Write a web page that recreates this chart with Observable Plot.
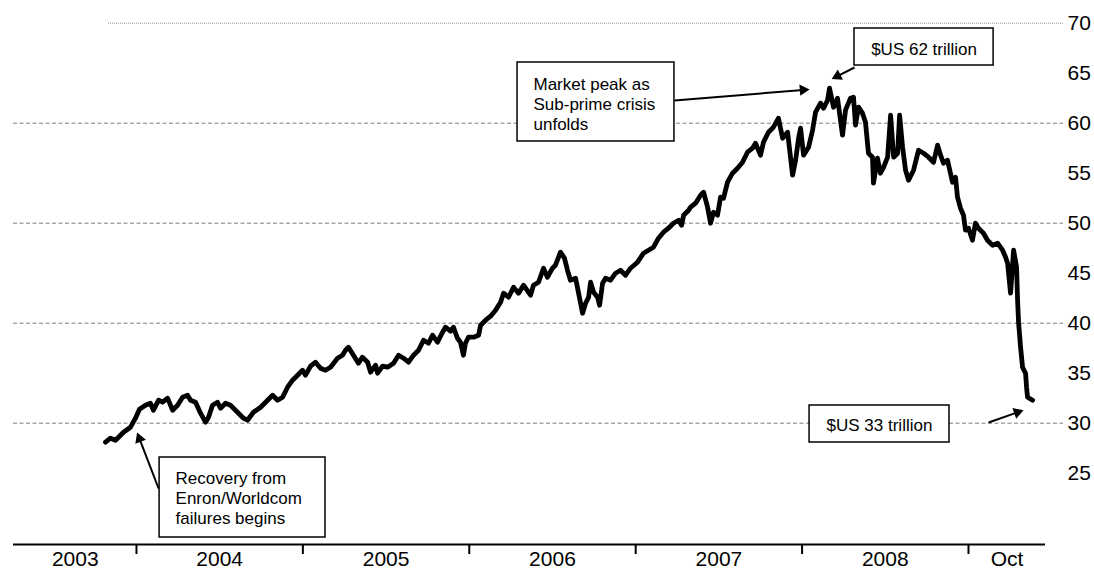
<!DOCTYPE html>
<html><head><meta charset="utf-8">
<script src="https://cdn.jsdelivr.net/npm/d3@7"></script>
<script src="https://cdn.jsdelivr.net/npm/@observablehq/plot@0.6"></script>
<style>html,body{margin:0;padding:0;background:#fff;} #chart svg{display:block}</style>
</head><body><div id="chart"></div>
<script>
// World stock market capitalisation, $US trillion (decimal year)
const years = [2003.182,2003.212,2003.242,2003.260,2003.290,2003.332,2003.362,2003.386,2003.422,2003.452,2003.470,2003.501,2003.525,2003.555,2003.585,2003.615,2003.645,2003.675,2003.693,2003.723,2003.753,2003.783,2003.801,2003.825,2003.855,2003.873,2003.903,2003.933,2003.975,2004.011,2004.035,2004.071,2004.114,2004.156,2004.186,2004.216,2004.246,2004.276,2004.306,2004.336,2004.366,2004.384,2004.414,2004.444,2004.474,2004.504,2004.534,2004.576,2004.606,2004.624,2004.642,2004.672,2004.702,2004.726,2004.757,2004.775,2004.805,2004.817,2004.847,2004.877,2004.913,2004.943,2004.973,2005.003,2005.033,2005.063,2005.093,2005.123,2005.147,2005.177,2005.207,2005.225,2005.255,2005.273,2005.297,2005.315,2005.333,2005.345,2005.363,2005.394,2005.424,2005.436,2005.466,2005.496,2005.526,2005.556,2005.574,2005.604,2005.634,2005.664,2005.694,2005.736,2005.754,2005.784,2005.814,2005.838,2005.868,2005.886,2005.916,2005.940,2005.958,2005.976,2006.007,2006.025,2006.049,2006.067,2006.085,2006.097,2006.115,2006.139,2006.151,2006.169,2006.187,2006.217,2006.247,2006.277,2006.307,2006.337,2006.379,2006.415,2006.445,2006.475,2006.505,2006.535,2006.565,2006.595,2006.626,2006.644,2006.656,2006.686,2006.698,2006.728,2006.758,2006.776,2006.800,2006.818,2006.836,2006.860,2006.878,2006.896,2006.920,2006.950,2006.980,2007.010,2007.040,2007.070,2007.088,2007.118,2007.136,2007.166,2007.196,2007.226,2007.251,2007.281,2007.311,2007.329,2007.347,2007.359,2007.377,2007.407,2007.431,2007.449,2007.479,2007.497,2007.521,2007.533,2007.557,2007.581,2007.611,2007.629,2007.659,2007.677,2007.689,2007.707,2007.731,2007.749,2007.767,2007.791,2007.797,2007.821,2007.839,2007.858,2007.882,2007.900,2007.918,2007.942,2007.954,2007.972,2007.990,2008.008,2008.038,2008.068,2008.098,2008.128,2008.158,2008.182,2008.200,2008.218,2008.242,2008.272,2008.290,2008.302,2008.320,2008.338,2008.350,2008.368,2008.392,2008.410,2008.428,2008.458,2008.482,2008.513,2008.543,2008.573,2008.591,2008.603,2008.621,2008.639,2008.657,2008.663,2008.669,2008.681,2008.693,2008.711,2008.717,2008.723,2008.753];
const values = [28.1,28.5,28.3,28.6,29.1,29.6,30.5,31.4,31.8,32.0,31.3,32.3,32.1,32.5,31.3,31.8,32.6,32.8,32.3,32.1,31.0,30.1,30.6,31.8,32.1,31.5,32.0,31.8,31.1,30.5,30.3,31.1,31.6,32.3,32.8,32.3,32.6,33.6,34.3,34.8,35.3,34.8,35.7,36.1,35.5,35.3,35.6,36.5,36.8,37.3,37.6,36.8,36.0,36.6,36.1,35.1,35.8,35.0,35.7,35.6,36.0,36.8,36.5,36.1,36.8,37.3,38.3,38.0,38.8,38.1,39.1,39.6,39.2,39.6,38.5,38.1,36.8,38.0,38.6,38.6,38.8,39.8,40.3,40.7,41.3,42.1,43.0,42.6,43.6,43.0,43.8,42.8,43.8,44.1,45.5,44.6,45.5,45.8,47.1,46.5,45.3,44.3,44.5,43.0,41.0,42.0,42.6,44.1,43.1,42.6,41.8,44.0,44.5,44.3,45.0,45.3,44.8,45.5,46.1,47.0,47.3,47.6,48.5,49.1,49.5,50.0,50.3,49.8,50.8,51.3,51.6,52.0,52.8,53.1,51.6,50.0,51.1,50.8,52.6,52.5,54.1,55.0,55.5,56.1,57.1,57.5,58.0,56.8,58.1,59.1,59.6,60.5,58.5,59.1,54.8,56.3,58.5,59.5,56.8,57.6,59.3,61.1,62.0,61.5,62.3,63.5,61.6,62.5,58.8,61.3,62.5,62.6,59.8,61.6,61.0,60.1,57.0,56.6,54.0,56.5,55.0,55.6,56.6,60.8,56.6,57.0,60.8,57.6,55.3,54.3,55.3,57.3,57.0,56.6,56.1,57.8,56.8,56.0,56.3,54.1,54.6,52.6,51.5,50.8,49.3,49.5,48.3,50.0,49.5,49.0,48.3,47.8,48.0,47.3,46.6,46.0,43.0,47.3,45.6,42.3,40.1,37.6,35.6,35.0,33.6,32.6,32.3];

const gridValues = [30, 40, 50, 60];
const topGridValue = [70];
const yTickLabels = [25, 30, 35, 40, 45, 50, 55, 60, 65, 70];
const xTickPositions = [2003.368, 2004.368, 2005.368, 2006.368, 2007.368, 2008.368];
const xLabelText = ["2003", "2004", "2005", "2006", "2007", "2008", "Oct"];
const xLabelPos = [2003.0, 2003.868, 2004.868, 2005.868, 2006.868, 2007.868, 2008.6];

// annotation boxes (data units: decimal year, $US trillion)
const boxX1 = [2005.658, 2007.683, 2007.413, 2003.507];
const boxX2 = [2006.601, 2008.519, 2008.254, 2004.504];
const boxY1 = [58.17, 65.77, 28.07, 18.57];
const boxY2 = [66.07, 69.47, 31.77, 26.57];
const noteText = ["Market peak as\nSub-prime crisis\nunfolds", "$US 62 trillion", "$US 33 trillion", "Recovery from\nEnron/Worldcom\nfailures begins"];
const noteX = [2005.754, 2008.101, 2007.833, 2003.603];
const noteY = [61.97, 67.47, 29.87, 22.57];
const noteAnchor = ["start", "middle", "middle", "start"];
const arrowX1 = [2006.601, 2007.683, 2008.489, 2003.501];
const arrowY1 = [62.27, 65.57, 30.07, 23.47];
const arrowX2 = [2007.407, 2007.551, 2008.693, 2003.374];
const arrowY2 = [63.37, 64.47, 31.27, 28.97];

const xMin = 2002.629, xMax = 2008.939, xAxisEnd = 2008.831, yMin = 17.87, yMax = 70;
const topGridStart = 2003.2;

const series = years.map((t, i) => ({t, v: values[i]}));
const boxes = boxX1.map((_, i) => ({x1: boxX1[i], x2: boxX2[i], y1: boxY1[i], y2: boxY2[i]}));
const notes = noteText.map((s, i) => ({text: s, x: noteX[i], y: noteY[i], anchor: noteAnchor[i]}));
const arrows = arrowX1.map((_, i) => ({x1: arrowX1[i], y1: arrowY1[i], x2: arrowX2[i], y2: arrowY2[i]}));
const xLabels = xLabelText.map((s, i) => ({text: s, x: xLabelPos[i]}));

const tickFont = "'Liberation Sans Narrow', 'Arial Narrow', 'Liberation Sans', Arial, sans-serif";
const noteFont = "'Liberation Sans', Arial, sans-serif";

function build(heads) {
  return Plot.plot({
    width: 1094,
    height: 578,
    marginTop: 22.7,
    marginBottom: 34,
    marginLeft: 13,
    marginRight: 31,
    x: {type: "linear", domain: [xMin, xMax], axis: null},
    y: {domain: [yMin, yMax], axis: null},
    style: {background: "white"},
    marks: [
      Plot.ruleY(gridValues, {x1: xMin, x2: xMax, stroke: "#7f7f7f", strokeWidth: 1, strokeDasharray: "4,2.5"}),
      Plot.ruleY(topGridValue, {x1: topGridStart, x2: xMax, stroke: "#8c8c8c", strokeWidth: 1, strokeDasharray: "1,1"}),
      Plot.ruleY([yMin], {x1: xMin, x2: xAxisEnd, stroke: "black", strokeWidth: 2}),
      Plot.ruleX(xTickPositions, {y1: yMin, y2: yMin - 1.0, stroke: "black", strokeWidth: 2}),
      Plot.text(yTickLabels, {y: d => d, text: d => String(d), frameAnchor: "right", dx: 4, textAnchor: "start", fontSize: 21, fontFamily: tickFont, fill: "black"}),
      Plot.text(xLabels, {x: "x", text: "text", frameAnchor: "bottom", dy: 21.5, fontSize: 21, fontFamily: tickFont, fill: "black"}),
      Plot.rect(boxes, {x1: "x1", x2: "x2", y1: "y1", y2: "y2", fill: "white", stroke: "black", strokeWidth: 1.5}),
      Plot.line(series, {x: "t", y: "v", stroke: "black", strokeWidth: 4.8, strokeLinejoin: "round", strokeLinecap: "round"}),
      heads ? Plot.link(heads, {x1: "sx", y1: "sy", x2: "x", y2: "y", stroke: "black", strokeWidth: 2}) : null,
      heads ? Plot.dot(heads, {x: "x", y: "y", symbol: "triangle", r: 4.2, rotate: "rot", fill: "black", stroke: "none"}) : null,
      Plot.text(notes.filter(d => d.anchor === "start"), {x: "x", y: "y", text: "text", textAnchor: "start", lineHeight: 1.2, fontSize: 17, fontFamily: noteFont, fill: "black"}),
      Plot.text(notes.filter(d => d.anchor === "middle"), {x: "x", y: "y", text: "text", textAnchor: "middle", lineHeight: 1.2, fontSize: 17, fontFamily: noteFont, fill: "black"})
    ]
  });
}

const base = build(null);
const sx = base.scale("x"), sy = base.scale("y");
const heads = arrows.map(a => {
  const px1 = sx.apply(a.x1), py1 = sy.apply(a.y1), px2 = sx.apply(a.x2), py2 = sy.apply(a.y2);
  const dx = px2 - px1, dy = py2 - py1, L = Math.hypot(dx, dy), back = 5.5;
  return {sx: a.x1, sy: a.y1, x: sx.invert(px2 - dx / L * back), y: sy.invert(py2 - dy / L * back), rot: Math.atan2(dy, dx) * 180 / Math.PI + 90};
});
document.getElementById("chart").appendChild(build(heads));
</script>
</body></html>
